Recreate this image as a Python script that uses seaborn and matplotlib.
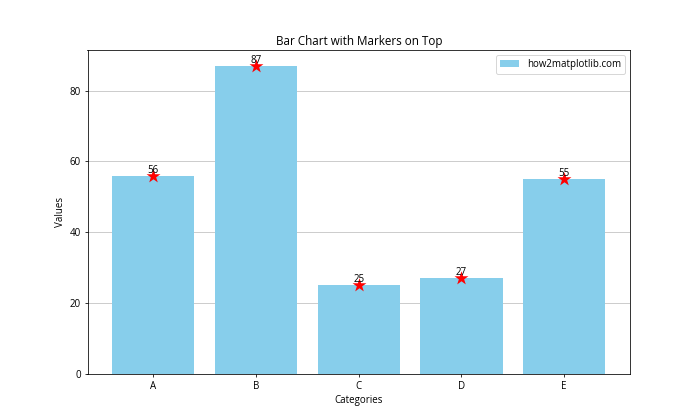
import matplotlib
matplotlib.use("Agg")
import matplotlib.pyplot as plt
import seaborn as sns
import pandas as pd

categories = ["A", "B", "C", "D", "E"]
values = [56, 87, 25, 27, 55]

plt.rcParams['font.family'] = ['Open Sans', 'DejaVu Sans']

df = pd.DataFrame({"Categories": categories, "Values": values})

fig, ax = plt.subplots(figsize=(10, 6), dpi=70)
sns.barplot(data=df, x="Categories", y="Values", color="skyblue", saturation=1,
            width=0.8, label="how2matplotlib.com", ax=ax)
sns.scatterplot(data=df, x="Categories", y="Values", marker="*", s=225,
                color="red", linewidth=0, zorder=3, ax=ax, legend=False)
for i, v in enumerate(values):
    ax.text(i, v, str(v), ha="center", va="bottom", fontsize=10)

ax.set_title("Bar Chart with Markers on Top", fontsize=12)
ax.set_xlabel("Categories", fontsize=10)
ax.set_ylabel("Values", fontsize=10)
ax.tick_params(labelsize=10)
ax.set_axisbelow(True)
ax.grid(axis="y", color="#b0b0b0", alpha=0.8, linewidth=0.8)
ax.set_ylim(0, max(values) * 1.05)
ax.legend(loc="upper right", fontsize=10)
fig.savefig("out.png", dpi=70)
